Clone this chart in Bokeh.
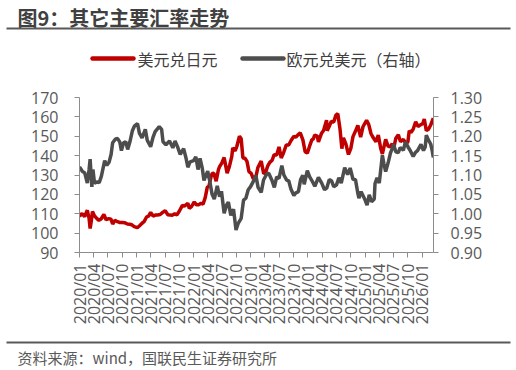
import pandas as pd
from math import pi
from bokeh.plotting import figure
from bokeh.layouts import column
from bokeh.models import (Range1d, LinearAxis, FixedTicker, NumeralTickFormatter,
                          ColumnDataSource, DatetimeTickFormatter)
from bokeh.core.properties import value
from bokeh.embed import file_html
from bokeh.resources import INLINE

title_text = "图9：其它主要汇率走势"
source_text = "资料来源：wind，国联民生证券研究所"
series_names = ["美元兑日元", "欧元兑美元（右轴）"]

tick_labels = ["2020/01", "2020/04", "2020/07", "2020/10", "2021/01", "2021/04", "2021/07", "2021/10",
               "2022/01", "2022/04", "2022/07", "2022/10", "2023/01", "2023/04", "2023/07", "2023/10",
               "2024/01", "2024/04", "2024/07", "2024/10", "2025/01", "2025/04", "2025/07", "2025/10",
               "2026/01"]
left_ticks = [90, 100, 110, 120, 130, 140, 150, 160, 170]
right_ticks = [0.90, 0.95, 1.00, 1.05, 1.10, 1.15, 1.20, 1.25, 1.30]

jpy_dates = [
    "2020-01-01", "2020-01-17", "2020-02-03", "2020-02-20", "2020-03-02", "2020-03-09", "2020-03-16", "2020-03-24",
    "2020-04-06", "2020-04-20", "2020-05-04", "2020-05-18", "2020-06-05", "2020-06-19", "2020-07-06", "2020-07-20",
    "2020-07-31", "2020-08-14", "2020-08-31", "2020-09-15", "2020-10-01", "2020-10-15", "2020-11-02", "2020-11-16",
    "2020-12-01", "2020-12-16", "2021-01-05", "2021-01-19", "2021-02-04", "2021-02-17", "2021-03-05", "2021-03-19",
    "2021-03-31", "2021-04-16", "2021-04-30", "2021-05-14", "2021-05-31", "2021-06-16", "2021-07-02", "2021-07-19",
    "2021-08-02", "2021-08-16", "2021-09-01", "2021-09-15", "2021-09-30", "2021-10-20", "2021-11-02", "2021-11-24",
    "2021-12-03", "2021-12-17", "2022-01-04", "2022-01-18", "2022-02-01", "2022-02-16", "2022-03-01", "2022-03-15",
    "2022-03-28", "2022-04-08", "2022-04-20", "2022-04-28", "2022-05-09", "2022-05-24", "2022-06-07", "2022-06-15",
    "2022-06-28", "2022-07-14", "2022-08-02", "2022-08-16", "2022-09-01", "2022-09-07", "2022-09-22", "2022-10-03",
    "2022-10-20", "2022-10-31", "2022-11-11", "2022-11-25", "2022-12-07", "2022-12-20", "2023-01-03", "2023-01-16",
    "2023-02-01", "2023-02-15", "2023-03-08", "2023-03-24", "2023-04-05", "2023-04-19", "2023-05-02", "2023-05-17",
    "2023-05-30", "2023-06-15", "2023-06-30", "2023-07-14", "2023-07-28", "2023-08-15", "2023-08-31", "2023-09-15",
    "2023-10-02", "2023-10-16", "2023-11-01", "2023-11-13", "2023-11-30", "2023-12-14", "2023-12-28", "2024-01-12",
    "2024-01-26", "2024-02-05", "2024-02-13", "2024-03-01", "2024-03-08", "2024-03-27", "2024-04-10", "2024-04-29",
    "2024-05-03", "2024-05-15", "2024-05-29", "2024-06-14", "2024-06-28", "2024-07-10", "2024-07-24", "2024-08-05",
    "2024-08-15", "2024-08-30", "2024-09-16", "2024-10-01", "2024-10-15", "2024-11-01", "2024-11-15", "2024-12-03",
    "2024-12-18", "2025-01-10", "2025-01-24", "2025-02-07", "2025-02-21", "2025-03-11", "2025-03-26", "2025-04-11",
    "2025-04-21", "2025-05-12", "2025-05-28", "2025-06-11", "2025-06-23", "2025-07-01", "2025-07-16", "2025-08-01",
    "2025-08-15", "2025-09-02", "2025-09-17", "2025-10-01", "2025-10-10", "2025-10-21", "2025-11-04", "2025-11-20",
    "2025-12-05", "2025-12-17", "2026-01-05", "2026-01-14", "2026-01-27", "2026-02-10", "2026-02-24", "2026-03-13"]
jpy_values = [
    108.7, 110.1, 108.6, 111.8, 107.8, 102.4, 106.0, 111.2,
    108.9, 107.6, 106.6, 107.3, 109.6, 106.9, 107.5, 107.2,
    104.7, 106.6, 105.9, 105.5, 105.5, 105.4, 104.7, 104.6,
    104.3, 103.4, 102.8, 103.8, 105.1, 105.9, 108.3, 108.9,
    110.7, 108.8, 109.3, 109.4, 109.6, 110.7, 111.6, 109.5,
    109.3, 109.2, 110.0, 109.4, 111.3, 114.3, 113.9, 115.4,
    112.8, 113.7, 116.1, 114.6, 114.7, 115.4, 114.9, 118.3,
    123.6, 124.3, 128.7, 130.8, 130.9, 126.8, 132.6, 134.3,
    136.0, 139.0, 131.0, 134.2, 139.6, 144.0, 142.4, 144.7,
    150.0, 148.7, 138.8, 138.6, 137.0, 131.7, 130.8, 128.2,
    128.6, 133.9, 137.2, 130.7, 131.3, 134.7, 136.5, 137.6,
    140.5, 140.3, 144.5, 138.8, 141.2, 145.5, 145.5, 147.8,
    149.9, 149.5, 151.0, 151.7, 148.0, 142.0, 141.3, 145.0,
    148.1, 148.7, 150.6, 150.1, 147.1, 151.4, 153.0, 158.3,
    152.9, 154.9, 157.6, 157.4, 160.9, 161.6, 153.8, 143.6,
    149.2, 146.2, 140.6, 143.6, 149.8, 152.8, 155.6, 149.6,
    154.9, 158.2, 156.0, 151.4, 149.3, 147.2, 150.6, 143.5,
    140.9, 148.4, 144.8, 144.6, 146.2, 143.4, 148.9, 150.7,
    147.2, 148.4, 146.5, 147.0, 152.9, 151.9, 153.6, 157.5,
    155.0, 155.7, 156.6, 158.9, 152.9, 153.6, 155.8, 159.3]

eur_dates = [
    "2020-01-01", "2020-01-20", "2020-02-03", "2020-02-20", "2020-03-02", "2020-03-09", "2020-03-20", "2020-03-27",
    "2020-04-06", "2020-04-24", "2020-05-06", "2020-05-20", "2020-06-10", "2020-06-24", "2020-07-08", "2020-07-21",
    "2020-07-31", "2020-08-18", "2020-09-01", "2020-09-15", "2020-09-25", "2020-10-09", "2020-10-23", "2020-11-04",
    "2020-11-18", "2020-12-04", "2020-12-17", "2021-01-06", "2021-01-18", "2021-02-04", "2021-02-25", "2021-03-09",
    "2021-03-31", "2021-04-15", "2021-04-29", "2021-05-25", "2021-06-09", "2021-06-18", "2021-07-07", "2021-07-30",
    "2021-08-20", "2021-09-03", "2021-09-20", "2021-10-06", "2021-10-28", "2021-11-12", "2021-11-24", "2021-12-08",
    "2021-12-31", "2022-01-14", "2022-01-28", "2022-02-10", "2022-02-24", "2022-03-07", "2022-03-31", "2022-04-14",
    "2022-04-28", "2022-05-12", "2022-05-31", "2022-06-15", "2022-06-27", "2022-07-14", "2022-07-29", "2022-08-10",
    "2022-08-26", "2022-09-12", "2022-09-28", "2022-10-13", "2022-10-31", "2022-11-15", "2022-11-30", "2022-12-15",
    "2022-12-30", "2023-01-16", "2023-02-02", "2023-02-16", "2023-03-08", "2023-03-23", "2023-04-14", "2023-04-26",
    "2023-05-16", "2023-05-31", "2023-06-15", "2023-06-30", "2023-07-18", "2023-07-31", "2023-08-18", "2023-08-31",
    "2023-09-14", "2023-10-03", "2023-10-16", "2023-11-01", "2023-11-15", "2023-11-29", "2023-12-08", "2023-12-28",
    "2024-01-12", "2024-01-31", "2024-02-14", "2024-03-08", "2024-03-29", "2024-04-16", "2024-05-01", "2024-05-16",
    "2024-05-31", "2024-06-14", "2024-07-01", "2024-07-17", "2024-08-01", "2024-08-23", "2024-09-11", "2024-09-27",
    "2024-10-15", "2024-10-31", "2024-11-15", "2024-11-22", "2024-12-06", "2024-12-31", "2025-01-13", "2025-01-27",
    "2025-02-11", "2025-02-28", "2025-03-05", "2025-03-18", "2025-04-01", "2025-04-21", "2025-05-01", "2025-05-12",
    "2025-05-30", "2025-06-12", "2025-06-27", "2025-07-01", "2025-07-16", "2025-08-01", "2025-08-13", "2025-09-02",
    "2025-09-16", "2025-10-01", "2025-10-15", "2025-11-04", "2025-11-18", "2025-12-02", "2025-12-24", "2026-01-09",
    "2026-01-20", "2026-01-27", "2026-02-10", "2026-02-24", "2026-03-06", "2026-03-13"]
eur_values = [
    1.121, 1.109, 1.106, 1.079, 1.113, 1.141, 1.069, 1.114,
    1.079, 1.082, 1.080, 1.097, 1.137, 1.125, 1.133, 1.153,
    1.183, 1.193, 1.194, 1.185, 1.163, 1.183, 1.186, 1.166,
    1.185, 1.214, 1.226, 1.233, 1.208, 1.196, 1.218, 1.190,
    1.173, 1.197, 1.212, 1.225, 1.218, 1.186, 1.178, 1.188,
    1.170, 1.188, 1.172, 1.153, 1.168, 1.144, 1.120, 1.134,
    1.137, 1.147, 1.114, 1.143, 1.118, 1.086, 1.110, 1.082,
    1.050, 1.038, 1.072, 1.044, 1.058, 1.001, 1.022, 1.030,
    0.996, 1.012, 0.958, 0.976, 0.988, 1.035, 1.040, 1.062,
    1.070, 1.083, 1.099, 1.068, 1.055, 1.087, 1.104, 1.104,
    1.086, 1.068, 1.095, 1.091, 1.124, 1.100, 1.087, 1.085,
    1.064, 1.047, 1.054, 1.057, 1.088, 1.099, 1.076, 1.111,
    1.095, 1.082, 1.071, 1.094, 1.079, 1.062, 1.067, 1.088,
    1.085, 1.070, 1.074, 1.093, 1.079, 1.119, 1.101, 1.118,
    1.089, 1.088, 1.053, 1.040, 1.057, 1.036, 1.022, 1.049,
    1.031, 1.038, 1.078, 1.093, 1.079, 1.151, 1.129, 1.109,
    1.135, 1.157, 1.172, 1.180, 1.160, 1.158, 1.171, 1.164,
    1.186, 1.173, 1.164, 1.148, 1.158, 1.163, 1.179, 1.163,
    1.172, 1.203, 1.190, 1.180, 1.162, 1.145]

x_start = pd.Timestamp("2020-01-01")
x_end = pd.Timestamp("2026-03-14")

RED = "#C00000"
GREY = "#4D4D4D"
AXIS = "#8C8C8C"
LABEL = "#595959"
RULE = "#595959"
CJK = "Noto Sans CJK SC"
NUM = "Open Sans"
W = 516
H_TOP, H_MAIN, H_BOT = 75, 255, 40


def blank_fig(h):
    f = figure(width=W, height=h, output_backend="svg", toolbar_location=None,
               x_axis_location=None, y_axis_location=None,
               x_range=Range1d(0, W), y_range=Range1d(h, 0),
               min_border=0, min_border_left=0, min_border_right=0,
               min_border_top=0, min_border_bottom=0, frame_align=False)
    f.grid.visible = False
    f.outline_line_color = None
    f.background_fill_color = "white"
    f.border_fill_color = "white"
    return f


# ---- header: title, rule, legend (pixel coordinates of the header strip)
top = blank_fig(H_TOP)
top.text(x=[17], y=[17], text=[title_text], text_font=value(CJK), text_font_style="bold",
         text_font_size="20px", text_color="#404040", text_baseline="middle", text_align="left")
top.quad(left=[6], right=[510], top=[27], bottom=[29], fill_color=RULE, line_color=None)
top.segment(x0=[92, 242], y0=[58, 58], x1=[133, 283], y1=[58, 58],
            line_color=[RED, GREY], line_width=4.5, line_cap="round")
top.text(x=[137, 286], y=[58, 58], text=series_names, text_font=value(CJK),
         text_font_size="16px", text_color="#404040", text_baseline="middle", text_align="left")

# ---- main chart
src_jpy = ColumnDataSource(dict(x=pd.to_datetime(jpy_dates), y=jpy_values))
src_eur = ColumnDataSource(dict(x=pd.to_datetime(eur_dates), y=eur_values))

p = figure(width=W, height=H_MAIN, output_backend="svg", toolbar_location=None,
           x_axis_type="datetime", x_range=Range1d(x_start, x_end), y_range=Range1d(90, 170),
           min_border_left=79, min_border_right=83, min_border_top=22, min_border_bottom=78,
           frame_align=False)
p.extra_y_ranges = {"eur": Range1d(0.90, 1.30)}
p.outline_line_color = None
p.xgrid.visible = False
p.ygrid.visible = False
p.background_fill_color = "white"
p.border_fill_color = "white"

r1 = p.line("x", "y", source=src_jpy, line_color=RED, line_width=3.5)
r2 = p.line("x", "y", source=src_eur, line_color=GREY, line_width=3.5, y_range_name="eur")

tick_ms = [pd.Timestamp(pd.to_datetime(t, format="%Y/%m")).value / 1e6 for t in tick_labels]
fmt = "%Y/%m"
xa = p.xaxis[0]
xa.ticker = FixedTicker(ticks=tick_ms)
xa.formatter = DatetimeTickFormatter(milliseconds=fmt, seconds=fmt, minsec=fmt, minutes=fmt, hourmin=fmt,
                                     hours=fmt, days=fmt, months=fmt, years=fmt)
xa.major_label_orientation = pi / 2
xa.major_label_standoff = 6

ya = p.yaxis[0]
ya.ticker = FixedTicker(ticks=left_ticks)
ya.major_label_standoff = 16

yr = LinearAxis(y_range_name="eur", ticker=FixedTicker(ticks=right_ticks),
                formatter=NumeralTickFormatter(format="0.00"))
yr.major_label_standoff = 12
p.add_layout(yr, "right")

for ax in [xa, ya, yr]:
    ax.axis_line_color = AXIS
    ax.axis_line_width = 1
    ax.major_tick_line_color = AXIS
    ax.major_tick_out = 5
    ax.major_tick_in = 0
    ax.minor_tick_line_color = None
    ax.major_label_text_font = NUM
    ax.major_label_text_font_size = "16px"
    ax.major_label_text_color = LABEL

# ---- footer: rule and source
bot = blank_fig(H_BOT)
bot.quad(left=[6], right=[510], top=[11], bottom=[13], fill_color=RULE, line_color=None)
bot.text(x=[17], y=[27], text=[source_text], text_font=value(CJK), text_font_size="15px",
         text_color="#595959", text_baseline="middle", text_align="left")

layout = column(top, p, bot, spacing=0)
open("out.html", "w").write(file_html(layout, INLINE))
